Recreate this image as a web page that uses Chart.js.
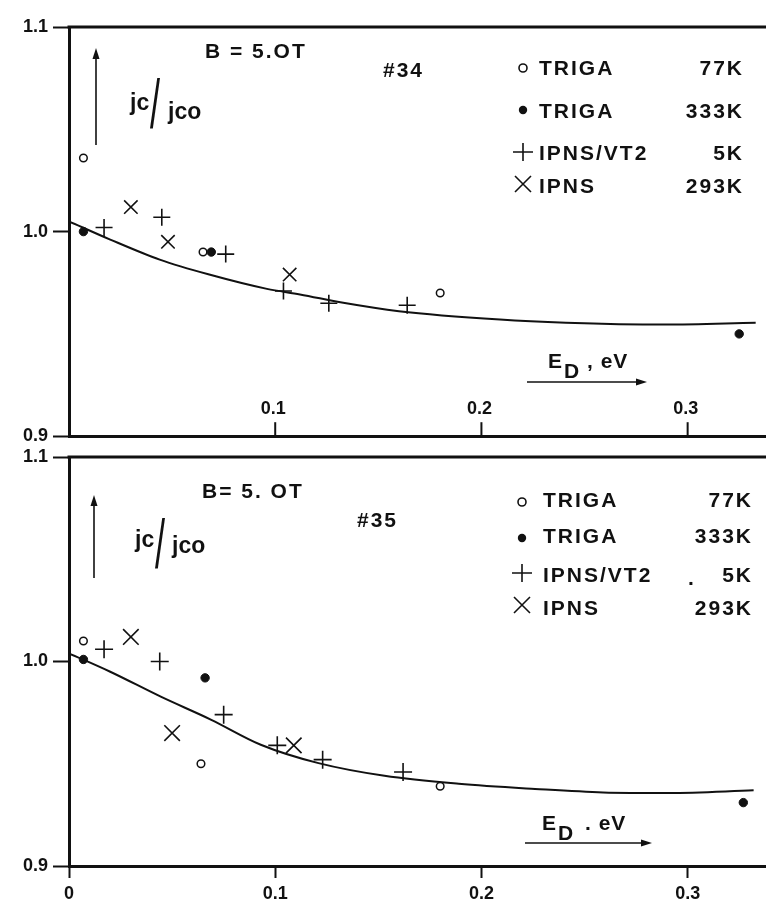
<!DOCTYPE html>
<html lang="en">
<head>
<meta charset="UTF-8">
<title>jc/jco vs ED</title>
<script src="https://cdn.jsdelivr.net/npm/chart.js"></script>
<style>
  body { margin: 0; background: #fff; }
  .panel { position: absolute; left: 0; width: 766px; }
  #panelTop { top: 0; height: 452px; }
  #panelBottom { top: 438px; height: 472px; }
</style>
</head>
<body>
<div class="panel" id="panelTop"><canvas id="chartTop"></canvas></div>
<div class="panel" id="panelBottom"><canvas id="chartBottom"></canvas></div>
<script>
// ---- data ----
const xTicks = [0, 0.1, 0.2, 0.3];
const yTicks = [0.9, 1.0, 1.1];

const legendNames = ['TRIGA', 'TRIGA', 'IPNS/VT2', 'IPNS'];
const legendTemps = ['77K', '333K', '5K', '293K'];

// sample #34
const t77X34 = [0.007, 0.065, 0.180];
const t77Y34 = [1.036, 0.990, 0.970];
const t333X34 = [0.007, 0.069, 0.325];
const t333Y34 = [1.000, 0.990, 0.950];
const vt2X34 = [0.017, 0.045, 0.076, 0.104, 0.126, 0.164];
const vt2Y34 = [1.002, 1.007, 0.989, 0.971, 0.965, 0.964];
const ipnsX34 = [0.030, 0.048, 0.107];
const ipnsY34 = [1.012, 0.995, 0.979];
const fitX34 = [0, 0.020, 0.044, 0.068, 0.096, 0.112, 0.133, 0.160, 0.209, 0.241, 0.289, 0.333];
const fitY34 = [1.005, 0.9961, 0.9863, 0.979, 0.972, 0.9693, 0.9652, 0.9611, 0.957, 0.9555, 0.9546, 0.9555];

// sample #35
const t77X35 = [0.007, 0.064, 0.180];
const t77Y35 = [1.010, 0.950, 0.939];
const t333X35 = [0.007, 0.066, 0.327];
const t333Y35 = [1.001, 0.992, 0.931];
const vt2X35 = [0.017, 0.044, 0.075, 0.101, 0.123, 0.162];
const vt2Y35 = [1.006, 1.000, 0.974, 0.959, 0.952, 0.946];
const ipnsX35 = [0.030, 0.050, 0.109];
const ipnsY35 = [1.012, 0.965, 0.959];
const fitX35 = [0, 0.020, 0.0445, 0.069, 0.093, 0.121, 0.153, 0.189, 0.226, 0.259, 0.291, 0.332];
const fitY35 = [1.004, 0.995, 0.9828, 0.9715, 0.9593, 0.9503, 0.9441, 0.9402, 0.9377, 0.936, 0.9357, 0.937];

const ink = '#111';
const face = '"Liberation Sans", Arial, Helvetica, sans-serif';

function pts(xs, ys) {
  return xs.map((x, i) => ({ x: x, y: ys[i] }));
}

function arrow(ctx, x0, y0, x1, y1) {
  const a = Math.atan2(y1 - y0, x1 - x0), L = 11, W = 3.5;
  const c = Math.cos(a), s = Math.sin(a);
  ctx.lineWidth = 1.6;
  ctx.beginPath();
  ctx.moveTo(x0, y0);
  ctx.lineTo(x1 - L * 0.7 * c, y1 - L * 0.7 * s);
  ctx.stroke();
  ctx.beginPath();
  ctx.moveTo(x1, y1);
  ctx.lineTo(x1 - L * c + W * s, y1 - L * s - W * c);
  ctx.lineTo(x1 - L * c - W * s, y1 - L * s + W * c);
  ctx.closePath();
  ctx.fill();
}

function marker(ctx, kind, x, y) {
  ctx.lineWidth = 1.6;
  ctx.beginPath();
  if (kind === 0) {
    ctx.arc(x, y, 4, 0, Math.PI * 2);
    ctx.stroke();
  } else if (kind === 1) {
    ctx.arc(x, y, 4.2, 0, Math.PI * 2);
    ctx.fill();
  } else if (kind === 2) {
    ctx.moveTo(x - 10, y); ctx.lineTo(x + 10, y);
    ctx.moveTo(x, y - 9); ctx.lineTo(x, y + 9);
    ctx.stroke();
  } else {
    ctx.moveTo(x - 8, y - 8); ctx.lineTo(x + 8, y + 8);
    ctx.moveTo(x + 8, y - 8); ctx.lineTo(x - 8, y + 8);
    ctx.stroke();
  }
}

// frame, inner ticks and the lettering of one panel
function makeDecor(p) {
  return {
    id: 'decor',
    afterDraw(chart) {
      const ctx = chart.ctx, a = chart.chartArea, xs = chart.scales.x;
      const o = p.offY;
      ctx.save();
      ctx.strokeStyle = ink;
      ctx.fillStyle = ink;

      // top frame line
      ctx.lineWidth = 3;
      ctx.beginPath();
      ctx.moveTo(a.left - 1.5, a.top);
      ctx.lineTo(a.right, a.top);
      ctx.stroke();

      // tick marks pointing into the plot with labels above them
      if (p.innerTicks) {
        ctx.lineWidth = 2;
        ctx.font = 'bold 18px ' + face;
        ctx.textAlign = 'center';
        ctx.textBaseline = 'alphabetic';
        xTicks.slice(1).forEach(v => {
          const px = xs.getPixelForValue(v);
          ctx.beginPath();
          ctx.moveTo(px, a.bottom);
          ctx.lineTo(px, a.bottom - 14);
          ctx.stroke();
          ctx.fillText(v.toFixed(1), px - 2, a.bottom - 22);
        });
      }

      ctx.textAlign = 'left';
      ctx.textBaseline = 'alphabetic';
      ctx.font = 'bold 21px ' + face;
      ctx.letterSpacing = '2px';
      ctx.fillText(p.field[0], p.field[1], p.field[2] - o);
      ctx.fillText(p.sample[0], p.sample[1], p.sample[2] - o);

      // legend
      const L = p.legend;
      for (let i = 0; i < 4; i++) {
        marker(ctx, i, L.markX, L.markY[i] - o);
        ctx.textAlign = 'left';
        ctx.fillText(legendNames[i], L.textX, L.base[i] - o);
        ctx.textAlign = 'right';
        ctx.fillText(legendTemps[i], L.tempX, L.base[i] - o);
      }
      if (p.speck) {
        ctx.textAlign = 'left';
        ctx.fillText('.', p.speck[0], p.speck[1] - o);
      }

      // y label jc/jco with arrow
      ctx.letterSpacing = '0px';
      ctx.textAlign = 'left';
      const r = p.ratio;
      ctx.font = 'bold 23px ' + face;
      ctx.fillText('jc', r.jcX, r.jcY - o);
      ctx.fillText('jco', r.jcoX, r.jcoY - o);
      ctx.save();
      ctx.translate(r.slX, r.slY - o);
      ctx.scale(1, 1.9);
      ctx.font = '36px ' + face;
      ctx.fillText('/', 0, 0);
      ctx.restore();
      arrow(ctx, p.yArrow[0], p.yArrow[1] - o, p.yArrow[0], p.yArrow[2] - o);

      // x label E_D , eV with arrow
      const e = p.xLabel;
      ctx.font = 'bold 21px ' + face;
      ctx.letterSpacing = '1px';
      ctx.fillText('E', e.eX, e.base - o);
      ctx.fillText('D', e.dX, e.base + 10 - o);
      ctx.fillText(e.rest, e.restX, e.base - o);
      arrow(ctx, e.arrow[0], e.arrow[2] - o, e.arrow[1], e.arrow[2] - o);

      ctx.restore();
    }
  };
}

function buildPanel(id, d, p) {
  return new Chart(document.getElementById(id), {
    type: 'scatter',
    data: {
      datasets: [
        { label: 'TRIGA 77K', data: pts(d.t77X, d.t77Y), pointStyle: 'circle', pointRadius: 3.8,
          borderColor: ink, backgroundColor: '#fff', borderWidth: 1.5 },
        { label: 'TRIGA 333K', data: pts(d.t333X, d.t333Y), pointStyle: 'circle', pointRadius: 4.2,
          borderColor: ink, backgroundColor: ink, borderWidth: 1 },
        { label: 'IPNS/VT2 5K', data: pts(d.vt2X, d.vt2Y), pointStyle: 'cross', pointRadius: p.plusR,
          borderColor: ink, borderWidth: 1.6 },
        { label: 'IPNS 293K', data: pts(d.ipnsX, d.ipnsY), pointStyle: 'crossRot', pointRadius: p.crossR,
          borderColor: ink, borderWidth: 1.6 },
        { label: 'fit', data: pts(d.fitX, d.fitY), showLine: true, pointRadius: 0,
          borderColor: ink, borderWidth: 2, cubicInterpolationMode: 'monotone' }
      ]
    },
    options: {
      responsive: true,
      maintainAspectRatio: false,
      animation: false,
      layout: { autoPadding: false, padding: { top: p.padTop, left: 0, right: 0, bottom: 0 } },
      plugins: { legend: { display: false }, tooltip: { enabled: false } },
      scales: {
        x: {
          type: 'linear', min: 0, max: 0.338,
          afterBuildTicks: s => { s.ticks = xTicks.map(v => ({ value: v })); },
          afterFit: s => { s.height = p.xHeight; },
          border: { color: ink, width: 3 },
          grid: { drawOnChartArea: false, drawTicks: !p.innerTicks, tickLength: 12, tickWidth: 2, tickColor: ink },
          ticks: {
            display: !p.innerTicks, padding: 5, color: ink, maxRotation: 0,
            font: { family: face, size: 18, weight: 'bold' },
            callback: v => (v === 0 ? '0' : v.toFixed(1))
          }
        },
        y: {
          type: 'linear', min: 0.9, max: 1.1,
          afterBuildTicks: s => { s.ticks = yTicks.map(v => ({ value: v })); },
          afterFit: s => { s.width = 69; },
          border: { color: ink, width: 3 },
          grid: { drawOnChartArea: false, tickLength: 16, tickWidth: 2, tickColor: ink },
          ticks: {
            padding: 5, color: ink,
            font: { family: face, size: 18, weight: 'bold' },
            callback: v => v.toFixed(1)
          }
        }
      }
    },
    plugins: [makeDecor(p)]
  });
}

buildPanel('chartTop',
  { t77X: t77X34, t77Y: t77Y34, t333X: t333X34, t333Y: t333Y34, vt2X: vt2X34, vt2Y: vt2Y34,
    ipnsX: ipnsX34, ipnsY: ipnsY34, fitX: fitX34, fitY: fitY34 },
  {
    offY: 0, padTop: 27, xHeight: 15, innerTicks: true, plusR: 8.5, crossR: 9.5,
    field: ['B = 5.OT', 205, 58],
    sample: ['#34', 383, 77],
    legend: { markX: 523, textX: 539, tempX: 744, markY: [68, 110, 152, 184], base: [75, 118, 160, 193] },
    ratio: { jcX: 130, jcY: 110, jcoX: 168, jcoY: 119, slX: 150, slY: 128 },
    yArrow: [96, 145, 48],
    xLabel: { eX: 548, base: 368, dX: 564, rest: ', eV', restX: 587, arrow: [527, 647, 382] }
  });

buildPanel('chartBottom',
  { t77X: t77X35, t77Y: t77Y35, t333X: t333X35, t333Y: t333Y35, vt2X: vt2X35, vt2Y: vt2Y35,
    ipnsX: ipnsX35, ipnsY: ipnsY35, fitX: fitX35, fitY: fitY35 },
  {
    offY: 438, padTop: 19, xHeight: 44, innerTicks: false, plusR: 9, crossR: 11,
    field: ['B= 5. OT', 202, 498],
    sample: ['#35', 357, 527],
    legend: { markX: 522, textX: 543, tempX: 753, markY: [502, 538, 573, 605], base: [507, 543, 582, 615] },
    speck: [688, 585],
    ratio: { jcX: 135, jcY: 547, jcoX: 172, jcoY: 553, slX: 155, slY: 568 },
    yArrow: [94, 578, 495],
    xLabel: { eX: 542, base: 830, dX: 558, rest: '. eV', restX: 585, arrow: [525, 652, 843] }
  });
</script>
</body>
</html>
